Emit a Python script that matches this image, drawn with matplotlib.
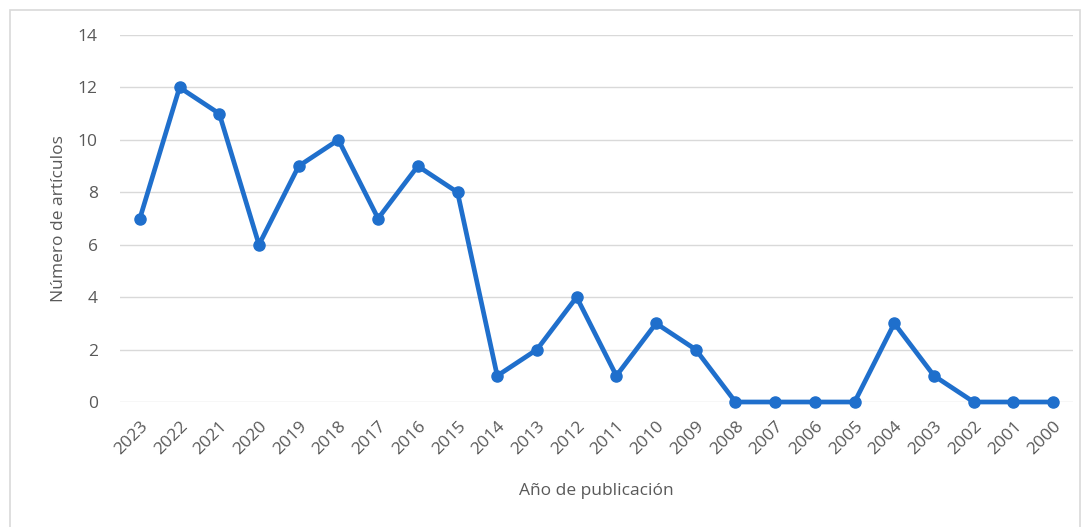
import matplotlib
matplotlib.use("Agg")
import matplotlib.pyplot as plt
from matplotlib.patches import Rectangle

years = ["2023", "2022", "2021", "2020", "2019", "2018", "2017", "2016", "2015", "2014",
         "2013", "2012", "2011", "2010", "2009", "2008", "2007", "2006", "2005", "2004",
         "2003", "2002", "2001", "2000"]
articles = [7, 12, 11, 6, 9, 10, 7, 9, 8, 1, 2, 4, 1, 3, 2, 0, 0, 0, 0, 3, 1, 0, 0, 0]
y_ticks = [0, 2, 4, 6, 8, 10, 12, 14]

plt.rcParams['font.family'] = ['Open Sans', 'DejaVu Sans']
fig = plt.figure(figsize=(10.9, 5.27), dpi=100)
fig.patches.append(Rectangle((10/1090, -0.1), 1070/1090, 1.1 - 10/527, transform=fig.transFigure,
                             fill=False, edgecolor='#d9d9d9', linewidth=1.2))
ax = fig.add_axes([120/1090, 1 - 402/527, (1073 - 120)/1090, (402 - 35)/527])

x = list(range(len(years)))
ax.plot(x, articles, color='#1f6fcc', linewidth=3.4, marker='o', markersize=8,
        solid_joinstyle='round', zorder=3, clip_on=False)
ax.set_xlim(-0.5, len(years) - 0.5)
ax.set_ylim(0, 14)
ax.set_yticks(y_ticks)
ax.set_xticks(x)
ax.set_xticklabels(years, rotation=45, ha='right', rotation_mode='anchor')
ax.grid(axis='y', color='#d9d9d9', linewidth=1)
ax.set_axisbelow(True)
for s in ax.spines.values():
    s.set_visible(False)
ax.tick_params(axis='both', length=0, colors='#595959', labelsize=12.5)
ax.tick_params(axis='y', pad=16)
ax.tick_params(axis='x', pad=12)
ax.set_ylabel('Número de artículos', fontsize=12.5, color='#595959', labelpad=8)
ax.set_xlabel('Año de publicación', fontsize=12.5, color='#595959', labelpad=18)
fig.savefig('out.png', dpi=100)
